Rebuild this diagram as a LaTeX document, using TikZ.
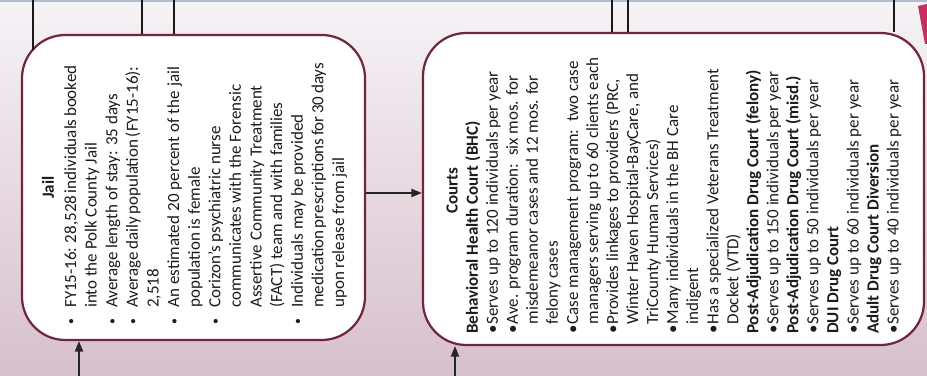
\documentclass[tikz,border=0pt]{standalone}
\usepackage{fontspec}
\setmainfont{Carlito}
\usepackage{tikz}
\usetikzlibrary{positioning, arrows.meta}
\definecolor{BoxMaroon}{RGB}{112,38,66}
\definecolor{BgTop}{RGB}{245,243,246}
\definecolor{BgMid}{RGB}{232,217,225}
\definecolor{BgPink}{RGB}{214,192,204}
\definecolor{ScanRule}{RGB}{178,188,204}
\definecolor{FlowRed}{RGB}{196,48,96}
\definecolor{InkBlack}{RGB}{28,28,30}
\tikzset{
  stagebox/.style={draw=BoxMaroon, line width=1.9pt, fill=white, rounded corners=1.3cm, inner sep=0pt},
  stagettl/.style={rotate=90, font=\fontsize{14.5}{17}\selectfont\bfseries, text=InkBlack, inner sep=0pt},
  stagetxt/.style={rotate=90, anchor=north west, align=left, font=\fontsize{14.5}{17.1}\selectfont,
    text=InkBlack, inner sep=0pt},
  link/.style={line width=1.3pt, black!90},
  arr/.style={-{Triangle[length=9pt,width=7pt]}, line width=1.3pt, black!85},
}
\newcommand{\jailbul}{\makebox[0.51cm][l]{\raisebox{0.08em}{\scalebox{0.7}{\textbullet}}}}
\newcommand{\jailind}{\hspace*{0.51cm}}
\newcommand{\jailfull}[1]{\makebox[7.23cm][s]{#1}}
\newcommand{\crtbul}{\makebox[0.55em][l]{\textbullet}}
\newcommand{\crtind}{\hspace*{0.55em}}

\begin{document}
\begin{tikzpicture}[x=0.03cm, y=-0.03cm]
  \useasboundingbox (0,0) rectangle (927,376);
  \shade[top color=BgTop, bottom color=BgPink, middle color=BgMid] (0,0) rectangle (927,376);
  \draw[ScanRule, line width=1.5pt] (0,1) -- (927,1);
  \fill[FlowRed] (918,6) .. controls (921,25) .. (925,44) -- (927,44) -- (927,4) -- cycle;

  % the two stages
  \node[stagebox, minimum width=10.29cm, minimum height=9.15cm] (jail) at (193.5,187.5) {};
  \node[stagebox, minimum width=15.03cm, minimum height=9.36cm] (courts) at (673.5,189) {};

  \node[stagettl] (jailttl) at (48,187.5) {Jail};
  \node[stagetxt, font=\fontsize{14.5}{17.6}\selectfont] (jailtxt) at (64,325) {%
    \jailbul \jailfull{FY15-16: 28,528 individuals booked}\\
    \jailind into the Polk County Jail\\
    \jailbul Average length of stay: 35 days\\
    \jailbul \jailfull{Average daily population (FY15-16):}\\
    \jailind 2,518\\
    \jailbul \jailfull{An estimated 20 percent of the jail}\\
    \jailind population is female\\
    \jailbul Corizon’s psychiatric nurse\\
    \jailind communicates with the Forensic\\
    \jailind Assertive Community Treatment\\
    \jailind (FACT) team and with families\\
    \jailbul Individuals may be provided\\
    \jailind \jailfull{medication prescriptions for 30 days}\\
    \jailind upon release from jail};

  \node[stagettl] (courtsttl) at (452,191) {Courts};
  \node[stagetxt] (courtstxt) at (465,334) {%
    \textbf{Behavioral Health Court (BHC)}\\
    \crtbul Serves up to 120 individuals per year\\
    \crtbul Ave. program duration:\ \ six mos. for\\
    \crtind misdemeanor cases and 12 mos. for\\
    \crtind felony cases\\
    \crtbul Case management program:\ \ two case\\
    \crtind managers serving up to 60 clients each\\
    \crtbul Provides linkages to providers (PRC,\\
    \crtind Winter Haven Hospital-BayCare, and\\
    \crtind TriCounty Human Services)\\
    \crtbul Many individuals in the BH Care\\
    \crtind indigent\\
    \crtbul Has a specialized Veterans Treatment\\
    \crtind Docket (VTD)\\
    \textbf{Post-Adjudication Drug Court (felony)}\\
    \crtbul Serves up to 150 individuals per year\\
    \textbf{Post-Adjudication Drug Court (misd.)}\\
    \crtbul Serves up to 50 individuals per year\\
    \textbf{DUI Drug Court}\\
    \crtbul Serves up to 60 individuals per year\\
    \textbf{Adult Drug Court Diversion}\\
    \crtbul Serves up to 40 individuals per year};

  % lines coming in from above
  \coordinate (topjail) at (33,0);
  \draw[link] (topjail) -- ++(0,50);
  \foreach \tx/\nd in {142/jail, 174/jail, 612/courts, 628/courts, 894/courts}
    {\coordinate (top\tx) at (\tx,0);
     \draw[link] (top\tx) -- (top\tx |- \nd.north);}

  % arrows
  \coordinate (jailfeed) at (79,376);
  \draw[arr] (jailfeed) -- (jailfeed |- jail.south);
  \coordinate (courtsfeed) at (455,376);
  \draw[arr] (courtsfeed) -- (courtsfeed |- courts.south);
  \path (jail.east) ++(0,5.5) coordinate (handoff);
  \draw[arr] (handoff) -- (handoff -| courts.west);
\end{tikzpicture}
\end{document}
